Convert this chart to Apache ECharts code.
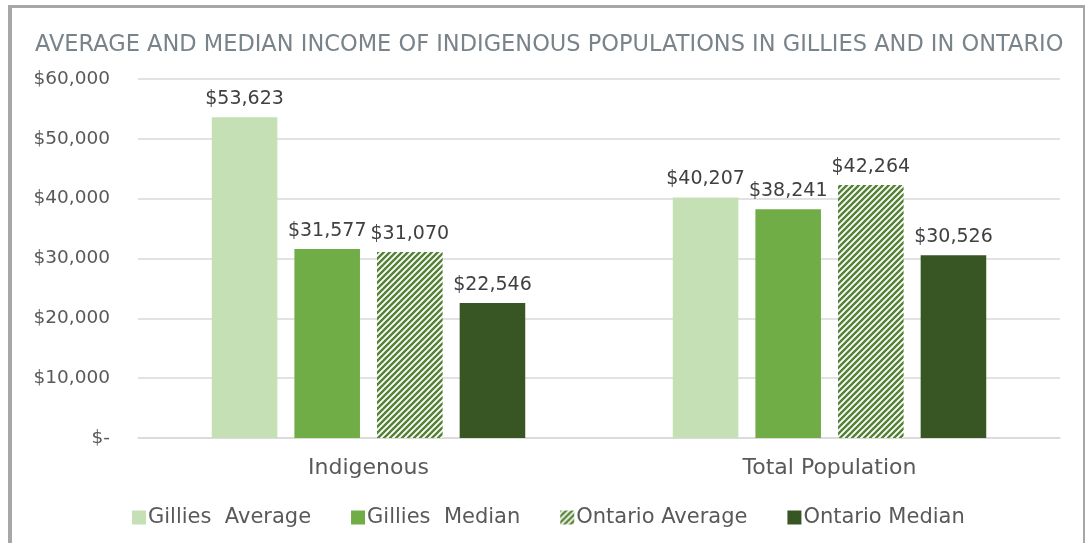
<!DOCTYPE html>
<html lang="en">
<head>
    <meta charset="UTF-8">
    <title>Average and Median Income of Indigenous Populations</title>
    <script src="https://cdn.jsdelivr.net/npm/echarts@6/dist/echarts.min.js"></script>
    <style>
        body {
            margin: 0;
            background-color: #ffffff;
            overflow: hidden;
        }

        #frame {
            position: absolute;
            left: 8px;
            top: 5px;
            width: 1071px;
            height: 560px;
            border-left: 4px solid #a6a8a8;
            border-top: 3px solid #a6a8a8;
            border-right: 2px solid #a6a8a8;
        }

        #chart {
            position: absolute;
            left: 0;
            top: 0;
            width: 1085px;
            height: 543px;
        }
    </style>
</head>
<body>

<div id="frame"></div>
<div id="chart"></div>

<script>
    // data
    const categories = ['Indigenous', 'Total Population'];
    const seriesNames = ['Gillies  Average', 'Gillies  Median', 'Ontario Average', 'Ontario Median'];
    const gilliesAverage = [53623, 40207];
    const gilliesMedian = [31577, 38241];
    const ontarioAverage = [31070, 42264];
    const ontarioMedian = [22546, 30526];

    const FONT = 'DejaVu Sans';

    // diagonal stripe fill for the Ontario average bars
    function stripePattern() {
        const c = document.createElement('canvas');
        c.width = 6;
        c.height = 6;
        const ctx = c.getContext('2d');
        ctx.fillStyle = '#ffffff';
        ctx.fillRect(0, 0, 6, 6);
        ctx.strokeStyle = '#548235';
        ctx.lineWidth = 2.4;
        ctx.beginPath();
        ctx.moveTo(-3, 3); ctx.lineTo(3, -3);
        ctx.moveTo(0, 6); ctx.lineTo(6, 0);
        ctx.moveTo(3, 9); ctx.lineTo(9, 3);
        ctx.stroke();
        return { image: c, repeat: 'repeat' };
    }

    function money(v) {
        return v === 0 ? '$-' : '$' + v.toLocaleString('en-US');
    }

    const colors = ['#c5e0b4', '#70ad47', stripePattern(), '#375623'];
    const values = [gilliesAverage, gilliesMedian, ontarioAverage, ontarioMedian];

    const chart = echarts.init(document.getElementById('chart'));

    const option = {
        animation: false,
        title: {
            text: 'AVERAGE AND MEDIAN INCOME OF INDIGENOUS POPULATIONS IN GILLIES AND IN ONTARIO',
            left: 30,
            top: 29,
            textStyle: {
                fontFamily: FONT,
                fontSize: 22.5,
                fontWeight: 'normal',
                color: '#79838a'
            }
        },
        legend: {
            bottom: 10,
            left: 127,
            itemWidth: 14,
            itemHeight: 14,
            itemGap: 40,
            icon: 'rect',
            textStyle: {
                fontFamily: FONT,
                fontSize: 21,
                color: '#595959',
                padding: [0, 0, 0, -3]
            },
            data: seriesNames
        },
        grid: {
            left: 138,
            right: 25,
            top: 79,
            bottom: 105
        },
        xAxis: {
            type: 'category',
            data: categories,
            axisTick: { show: false },
            axisLine: { lineStyle: { color: '#d9d9d9', width: 1.5 } },
            axisLabel: {
                margin: 19,
                fontFamily: FONT,
                fontSize: 22,
                color: '#595959'
            }
        },
        yAxis: {
            type: 'value',
            min: 0,
            max: 60000,
            interval: 10000,
            axisLine: { show: false },
            axisTick: { show: false },
            splitLine: { lineStyle: { color: '#d9d9d9', width: 1.5 } },
            axisLabel: {
                margin: 28,
                fontFamily: FONT,
                fontSize: 18.5,
                color: '#595959',
                formatter: money
            }
        },
        series: seriesNames.map((name, i) => ({
            name: name,
            type: 'bar',
            data: values[i],
            barGap: '26%',
            barCategoryGap: '32%',
            itemStyle: { color: colors[i] },
            label: {
                show: true,
                position: 'top',
                distance: 9,
                fontFamily: FONT,
                fontSize: 19,
                color: '#404040',
                formatter: p => money(p.value)
            }
        }))
    };

    chart.setOption(option);
</script>

</body>
</html>
